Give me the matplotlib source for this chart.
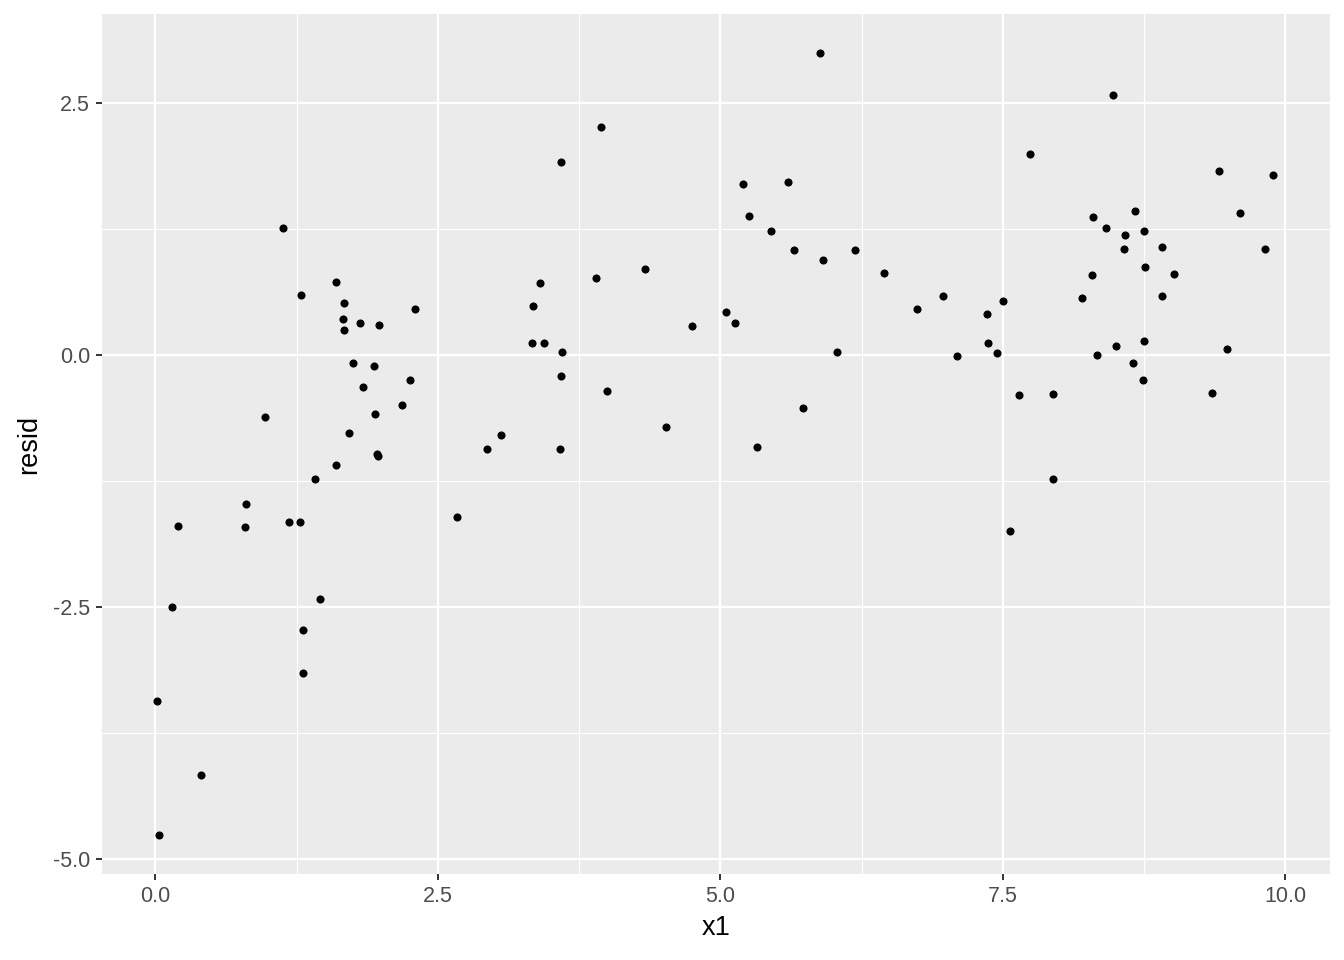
import numpy as np
import matplotlib
matplotlib.use('Agg')
from matplotlib import pyplot as plt
from matplotlib.ticker import MultipleLocator

# 数据：读图得到的 x1 与残差
x1 = [0.01, 0.03, 0.15, 0.20, 0.40, 0.80, 0.79, 0.97, 1.13, 1.18,
      1.28, 1.29, 1.31, 1.31, 1.41, 1.46, 1.60, 1.67, 2.30, 1.66,
      1.81, 1.98, 1.67, 1.75, 1.93, 2.25, 1.84, 2.18, 1.94, 1.71,
      1.96, 1.97, 1.60, 2.67,
      5.88, 3.94, 3.59, 5.20, 5.60, 5.25, 5.45, 5.65, 5.91, 6.19,
      6.45, 4.33, 3.90, 3.40, 3.34, 5.05, 5.13, 4.75, 3.33, 3.44,
      3.60, 6.03, 3.59, 4.00, 5.73, 4.52, 3.06, 2.93, 3.58, 5.32,
      8.47, 7.74, 9.41, 9.89, 9.60, 8.67, 8.30, 8.41, 8.75, 8.58,
      8.57, 8.91, 9.82, 8.76, 9.01, 8.29, 8.20, 8.91, 6.97, 6.74,
      7.50, 7.36, 7.37, 7.45, 7.09, 8.50, 8.75, 9.48, 8.33, 8.65,
      8.74, 7.64, 7.94, 9.35, 7.94, 7.56]
resid = [-3.43, -4.76, -2.50, -1.70, -4.17, -1.48, -1.71, -0.62, 1.26, -1.66,
         -1.66, 0.59, -2.73, -3.16, -1.23, -2.42, 0.72, 0.51, 0.45, 0.35,
         0.31, 0.29, 0.25, -0.08, -0.11, -0.25, -0.32, -0.50, -0.59, -0.78,
         -0.98, -1.00, -1.09, -1.61,
         2.99, 2.26, 1.91, 1.69, 1.71, 1.38, 1.23, 1.04, 0.94, 1.04,
         0.81, 0.85, 0.76, 0.71, 0.48, 0.42, 0.31, 0.28, 0.12, 0.12,
         0.03, 0.03, -0.21, -0.36, -0.53, -0.72, -0.80, -0.93, -0.93, -0.91,
         2.57, 1.99, 1.82, 1.78, 1.40, 1.42, 1.37, 1.26, 1.23, 1.19,
         1.05, 1.07, 1.05, 0.87, 0.80, 0.79, 0.56, 0.58, 0.58, 0.45,
         0.53, 0.40, 0.12, 0.02, -0.01, 0.09, 0.14, 0.06, 0.00, -0.08,
         -0.25, -0.40, -0.39, -0.38, -1.23, -1.75]

plt.rcParams['font.family'] = ['Liberation Sans', 'DejaVu Sans']

fig = plt.figure(figsize=(13.44, 9.6), dpi=100)
ax = fig.add_axes([0.0759, 0.0896, 0.9137, 0.8958])
ax.set_facecolor('#EBEBEB')

ax.scatter(x1, resid, s=34, color='black', linewidths=0, zorder=3)

# ggplot 风格的坐标范围
ax.set_xlim(-0.473, 10.394)
yr = max(resid) - min(resid)
ax.set_ylim(min(resid) - 0.05 * yr, max(resid) + 0.05 * yr)

ax.xaxis.set_minor_locator(MultipleLocator(1.25))
ax.yaxis.set_minor_locator(MultipleLocator(1.25))
ax.set_xticks([0, 2.5, 5, 7.5, 10])
ax.set_xticklabels(['0.0', '2.5', '5.0', '7.5', '10.0'])
ax.set_yticks([-5, -2.5, 0, 2.5])
ax.set_yticklabels(['-5.0', '-2.5', '0.0', '2.5'])

ax.grid(which='major', color='white', linewidth=1.6)
ax.grid(which='minor', color='white', linewidth=0.8)
ax.set_axisbelow(True)
for s in ax.spines.values():
    s.set_visible(False)

ax.tick_params(which='major', length=4.5, width=1.4, color='#333333',
               labelcolor='#4D4D4D', labelsize=15.5, pad=4)
ax.tick_params(which='minor', length=0)

ax.set_xlabel('x1', fontsize=19.5, color='black', labelpad=6)
ax.set_ylabel('resid', fontsize=19.5, color='black', labelpad=8)

fig.savefig('out.png', dpi=100)
